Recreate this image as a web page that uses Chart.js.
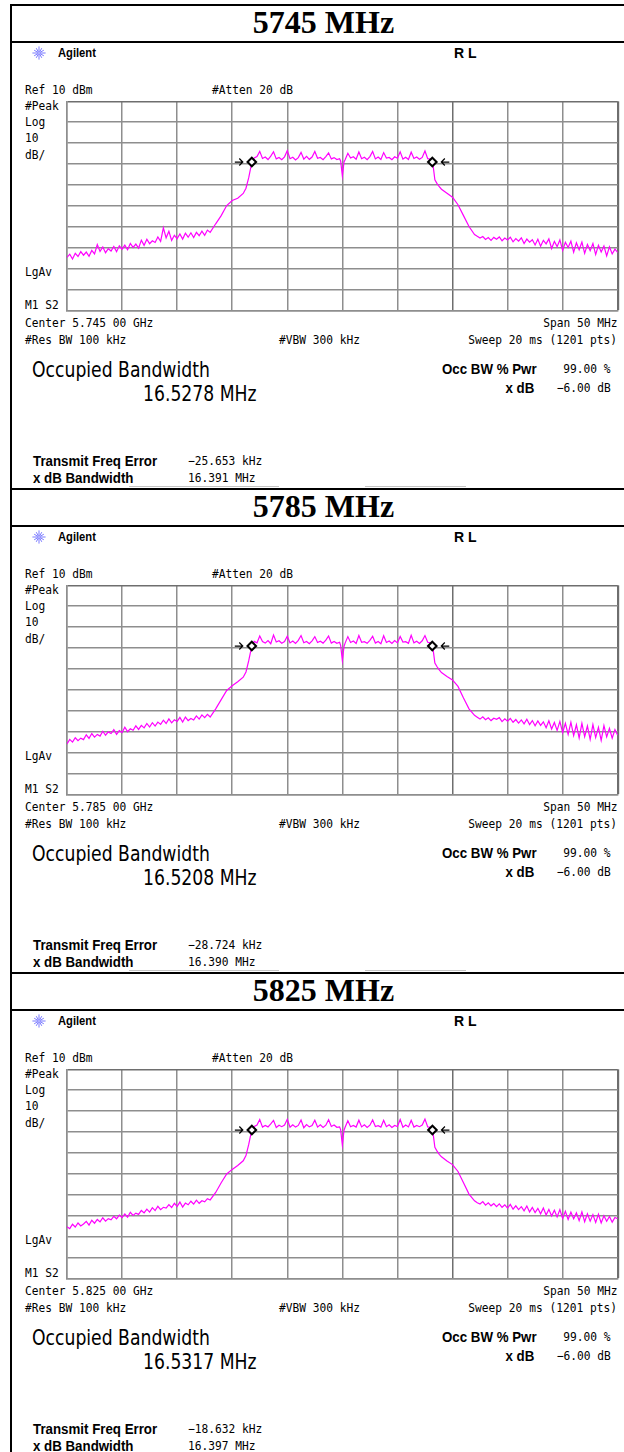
<!DOCTYPE html>
<html>
<head>
<meta charset="utf-8">
<script src="https://cdn.jsdelivr.net/npm/chart.js@4.4.1/dist/chart.umd.min.js"></script>
<style>
  html, body { margin: 0; padding: 0; background: #fff; }
  #page { position: relative; width: 624px; height: 1452px; overflow: hidden; background: #fff; }
  .panel { position: absolute; left: 0; top: 0; width: 624px; height: 484px; }
  .hline { position: absolute; left: 10px; width: 614px; height: 2px; background: #000; }
  .soft { position: absolute; height: 1px; background: #c4c4c4; }
  .vline { position: absolute; left: 10px; top: 4px; width: 2px; height: 1460px; background: #000; }
  .title { position: absolute; left: 0; width: 647px; top: 4px; height: 38px; line-height: 38px;
           text-align: center; font: bold 32px "Liberation Serif", serif; color: #000; }
  .t { position: absolute; white-space: pre; color: #000; }
  .m { font: 12px/16px "DejaVu Sans Mono", monospace; transform: translateY(-50%) scaleX(.935); transform-origin: 0 50%; }
  .b { font: bold 14px/16px "Liberation Sans", sans-serif; transform: translateY(-50%) scaleX(.95); transform-origin: 0 50%; }
  .big { font: 21px/24px "DejaVu Sans", sans-serif; transform: translateY(-50%) scaleX(.82); transform-origin: 0 50%; }
  .brand { font: bold 13px/16px "Liberation Sans", sans-serif; transform: translateY(-50%) scaleX(.86); transform-origin: 0 50%; }
  .rl { font: bold 14px/16px "Liberation Sans", sans-serif; transform: translateY(-50%); }
  .r { transform-origin: 100% 50%; }
  .logo { position: absolute; left: 32px; top: 46px; }
  canvas { position: absolute; }
</style>
</head>
<body>
<div id="page"><div class="vline"></div></div>
<script>
// ---- Measurement set: one spectrum-analyzer capture per channel ----
const channelTitles = ['5745 MHz', '5785 MHz', '5825 MHz'];
const centerFreqLabels = ['5.745 00 GHz', '5.785 00 GHz', '5.825 00 GHz'];
const occupiedBandwidth = ['16.5278 MHz', '16.5208 MHz', '16.5317 MHz'];
const freqErrorKHz = [-25.653, -28.724, -18.632];
const xdBBandwidthMHz = [16.391, 16.390, 16.397];
const xdBLevel = -6.00;
const occBwPercent = 99.00;
const peakLevelDBm = [-13.0, -13.0, -13.0];

// Display grid: span 50 MHz (10 div), ref 10 dBm at 10 dB/div
const xTicksMHz = [-25, -20, -15, -10, -5, 0, 5, 10, 15, 20, 25];
const yTicksDBm = [10, 0, -10, -20, -30, -40, -50, -60, -70, -80, -90];

// Trace sample positions, MHz offset from the centre frequency
const offsetsMHz = [
  -25, -24.75, -24.5, -24.25, -24, -23.75, -23.5, -23.25, -23, -22.75, -22.5, -22.25, -22, -21.75,
  -21.5, -21.25, -21, -20.75, -20.5, -20.25, -20, -19.75, -19.5, -19.25, -19, -18.75, -18.5, -18.25,
  -18, -17.75, -17.5, -17.25, -17, -16.75, -16.5, -16.25, -16, -15.75, -15.5, -15.25, -15, -14.75,
  -14.5, -14.25, -14, -13.75, -13.5, -13.25, -13, -12.75, -12.5, -12.25, -12,
  -11.5, -11, -10.5, -10, -9.5, -9, -8.75, -8.5, -8.35, -8.2,
  -8, -7.75, -7.5, -7.25, -7, -6.75, -6.5, -6.25, -6, -5.75, -5.5, -5.25, -5, -4.75, -4.5, -4.25,
  -4, -3.75, -3.5, -3.25, -3, -2.75, -2.5, -2.25, -2, -1.75, -1.5, -1.25, -1, -0.75, -0.5, -0.25,
  -0.15, 0, 0.15,
  0.25, 0.5, 0.75, 1, 1.25, 1.5, 1.75, 2, 2.25, 2.5, 2.75, 3, 3.25, 3.5, 3.75, 4,
  4.25, 4.5, 4.75, 5, 5.25, 5.5, 5.75, 6, 6.25, 6.5, 6.75, 7, 7.25, 7.5, 7.75, 8,
  8.2, 8.4, 8.6, 8.8, 9, 9.5, 10, 10.5, 11, 11.5,
  12, 12.25, 12.5, 12.75, 13, 13.25, 13.5, 13.75, 14, 14.25, 14.5, 14.75, 15, 15.25,
  15.5, 15.75, 16, 16.25, 16.5, 16.75, 17, 17.25, 17.5, 17.75, 18, 18.25, 18.5, 18.75,
  19, 19.25, 19.5, 19.75, 20, 20.25, 20.5, 20.75, 21, 21.25, 21.5, 21.75, 22, 22.25,
  22.5, 22.75, 23, 23.25, 23.5, 23.75, 24, 24.25, 24.5, 24.75, 25
];

// Trace levels in dBm, one value per offset
const trace5745 = [
  -64.5, -63.0, -65.3, -62.6, -64.1, -61.8, -63.5, -62.0, -64.0, -61.2, -62.9, -58.4, -61.7, -59.6,
  -62.3, -60.4, -61.5, -59.3, -61.8, -59.0, -60.6, -58.7, -60.9, -57.9, -59.8, -58.2, -60.1, -56.3,
  -58.8, -55.9, -58.0, -56.6, -57.4, -54.8, -56.9, -50.4, -55.2, -52.1, -56.4, -54.0, -55.6, -53.4,
  -55.8, -53.0, -54.9, -52.8, -55.1, -52.6, -54.2, -52.0, -54.0, -51.5, -52.6,
  -48.5, -44.6, -39.8, -37.4, -36.3, -34.0, -31.5, -26.5, -22.5, -19.0,
  -17.0, -16.4, -13.9, -17.3, -16.6, -17.8, -16.2, -14.1, -17.5, -16.8, -17.9, -16.5, -13.6, -17.4, -16.7, -18.0,
  -16.9, -14.4, -17.6, -16.3, -17.7, -16.6, -14.0, -17.2, -16.8, -17.9, -16.4, -14.6, -17.5, -16.9, -17.8, -17.4,
  -18.6, -25.6, -19.0,
  -17.9, -14.8, -17.1, -16.5, -17.7, -14.2, -17.4, -16.7, -17.9, -16.4, -14.0, -17.5, -16.6, -17.8, -14.5, -17.1,
  -16.8, -17.9, -16.5, -17.2, -14.1, -17.6, -16.7, -17.8, -14.3, -17.3, -16.6, -17.7, -16.8, -13.7, -17.4, -17.6,
  -19.0, -27.5, -29.3, -30.8, -32.0, -33.9, -35.8, -39.4, -44.6, -49.8,
  -53.6, -54.5, -55.3, -54.6, -56.0, -55.1, -56.4, -55.0, -55.9, -54.8, -56.6, -55.3, -56.2, -54.9,
  -57.1, -55.6, -56.8, -55.2, -57.9, -55.8, -57.3, -56.1, -58.6, -55.9, -59.2, -56.4, -58.1, -55.7,
  -60.3, -56.9, -59.4, -56.2, -61.2, -57.3, -59.8, -56.8, -62.1, -57.6, -60.9, -57.2, -62.6, -58.4,
  -61.3, -57.9, -63.2, -58.8, -62.0, -59.1, -63.8, -59.5, -62.9, -60.6, -62.2
];
const trace5785 = [
  -65.8, -63.6, -64.9, -62.8, -64.2, -63.0, -63.7, -61.4, -63.1, -60.8, -62.5, -61.2, -62.0, -59.7,
  -61.6, -60.0, -60.8, -58.9, -61.2, -59.4, -60.3, -57.8, -59.9, -58.5, -59.2, -57.1, -58.8, -56.9,
  -58.1, -56.0, -57.7, -55.6, -57.2, -55.3, -56.4, -54.4, -56.0, -53.8, -55.7, -54.2, -55.0, -53.1,
  -55.3, -52.9, -54.6, -53.6, -54.3, -52.4, -53.9, -51.9, -53.2, -51.6, -52.9,
  -49.0, -44.6, -40.2, -38.0, -36.1, -33.9, -31.4, -26.0, -22.1, -19.0,
  -16.8, -17.5, -14.2, -16.9, -17.6, -16.4, -17.9, -13.8, -17.1, -16.5, -17.7, -16.9, -14.3, -17.5, -16.6, -17.8,
  -16.3, -14.0, -17.4, -16.8, -17.9, -16.5, -14.5, -17.3, -16.7, -17.6, -16.2, -14.2, -17.6, -16.8, -17.7, -17.2,
  -18.8, -25.9, -19.2,
  -17.6, -14.5, -17.3, -16.6, -17.8, -14.0, -17.2, -16.9, -17.7, -16.3, -14.3, -17.6, -16.8, -17.9, -14.1, -17.3,
  -16.6, -17.8, -16.4, -17.5, -14.4, -17.1, -16.9, -17.7, -13.9, -17.5, -16.7, -17.8, -16.5, -14.0, -17.2, -17.5,
  -19.0, -27.1, -28.9, -30.4, -31.7, -33.5, -35.2, -38.3, -43.8, -49.0,
  -52.1, -53.0, -53.9, -52.8, -54.2, -53.3, -54.6, -53.5, -54.0, -53.2, -55.1, -53.8, -54.9, -53.6,
  -55.4, -54.1, -55.8, -54.3, -56.2, -54.0, -56.5, -54.6, -57.1, -54.8, -56.9, -55.2, -58.0, -54.7,
  -58.6, -55.5, -59.3, -55.0, -60.4, -55.9, -61.2, -55.4, -61.8, -56.6, -62.9, -55.9, -62.3, -57.2,
  -63.6, -56.5, -62.7, -57.8, -64.1, -57.0, -62.4, -58.3, -63.0, -58.9, -61.6
];
const trace5825 = [
  -65.2, -66.1, -64.0, -65.3, -63.4, -64.8, -63.9, -62.6, -64.4, -62.1, -63.5, -61.7, -62.9, -60.9,
  -62.5, -61.3, -61.9, -60.2, -61.4, -59.6, -60.8, -59.1, -60.6, -58.3, -59.8, -58.7, -59.3, -57.4,
  -58.6, -56.8, -58.2, -56.1, -57.5, -55.4, -57.0, -55.9, -56.3, -54.6, -56.0, -54.0, -55.5, -53.4,
  -55.8, -53.9, -54.7, -53.0, -54.4, -52.5, -54.0, -52.8, -53.3, -51.8, -52.4,
  -48.8, -44.2, -40.0, -37.8, -35.9, -33.7, -31.2, -25.9, -22.0, -19.0,
  -17.3, -16.6, -14.0, -17.6, -16.8, -17.5, -16.1, -14.4, -17.8, -16.7, -17.4, -16.6, -13.9, -17.7, -16.5, -17.6,
  -16.8, -14.2, -17.9, -16.4, -17.5, -16.9, -14.3, -17.6, -16.5, -17.8, -16.7, -14.1, -17.3, -16.6, -17.7, -17.5,
  -18.9, -26.2, -19.1,
  -17.7, -14.6, -17.4, -16.8, -17.6, -14.3, -17.5, -16.5, -17.8, -16.7, -14.2, -17.3, -16.9, -17.6, -14.4, -17.4,
  -16.5, -17.8, -16.8, -17.3, -14.0, -17.7, -16.6, -17.5, -14.4, -17.6, -16.8, -17.4, -16.6, -13.8, -17.5, -17.7,
  -19.0, -27.3, -29.1, -30.6, -31.8, -33.8, -35.5, -38.8, -44.2, -49.6,
  -52.8, -53.7, -54.3, -53.2, -54.9, -53.8, -55.2, -54.1, -55.6, -54.3, -55.9, -54.7, -56.3, -54.5,
  -56.8, -55.2, -57.0, -55.6, -57.6, -55.3, -58.1, -56.0, -58.4, -56.4, -59.0, -56.2, -59.6, -56.9,
  -60.1, -57.3, -60.5, -57.0, -61.2, -57.8, -61.7, -58.2, -61.4, -58.6, -62.3, -58.1, -62.8, -59.0,
  -62.5, -59.4, -63.1, -59.2, -63.4, -59.9, -62.6, -60.3, -63.0, -60.8, -61.4
];
const traces = [trace5745, trace5785, trace5825];

const PANEL_PITCH = 484;
const page = document.getElementById('page');

function put(parent, text, x, y, cls, alignRight) {
  const d = document.createElement('div');
  d.className = 't ' + cls + (alignRight ? ' r' : '');
  d.textContent = text;
  if (alignRight) d.style.right = (624 - x) + 'px'; else d.style.left = x + 'px';
  d.style.top = y + 'px';
  parent.appendChild(d);
}
const minus = s => s.replace('-', '\u2212');

// Arrows beside the two -x dB markers
const markerArrows = {
  id: 'markerArrows',
  afterDatasetsDraw(chart) {
    const pts = chart.getDatasetMeta(1).data;
    const ctx = chart.ctx;
    ctx.save();
    ctx.strokeStyle = '#000';
    ctx.lineWidth = 1.2;
    pts.forEach((p, i) => {
      const dir = i === 0 ? 1 : -1;
      const tip = p.x - dir * 9, tail = p.x - dir * 17;
      ctx.beginPath();
      ctx.moveTo(tail, p.y); ctx.lineTo(tip, p.y);
      ctx.moveTo(tip - dir * 3.5, p.y - 3.5); ctx.lineTo(tip, p.y); ctx.lineTo(tip - dir * 3.5, p.y + 3.5);
      ctx.stroke();
    });
    ctx.restore();
  }
};

const gridColor = c => (c.tick && (c.tick.value === 25 || c.tick.value === 10)) ? '#6e6e6e' : '#8e8e8e';
const gridWidth = c => (c.tick && c.tick.value === 25) ? 2.2 : 1.5;

const logoSvg =
  '<svg class="logo" width="14" height="14" viewBox="-7 -7 14 14">' +
  '<g stroke="#6b6bff" stroke-width="0.9" stroke-linecap="round">' +
  [0, 30, 60, 90, 120, 150, 180, 210, 240, 270, 300, 330].map(a => {
    const r = a * Math.PI / 180, r1 = 1.6, r2 = (a % 90 === 0) ? 6.2 : 5.2;
    return '<line x1="' + (Math.cos(r) * r1).toFixed(2) + '" y1="' + (Math.sin(r) * r1).toFixed(2) +
      '" x2="' + (Math.cos(r) * r2).toFixed(2) + '" y2="' + (Math.sin(r) * r2).toFixed(2) + '"/>';
  }).join('') +
  '</g><circle r="0.9" fill="#8a8aff"/></svg>';

channelTitles.forEach((title, i) => {
  const off = i * PANEL_PITCH;
  const p = document.createElement('div');
  p.className = 'panel';
  p.style.top = off + 'px';
  page.appendChild(p);

  p.insertAdjacentHTML('beforeend',
    '<div class="hline" style="top:4px"></div>' +
    '<div class="hline" style="top:41px"></div>' +
    '<div class="soft" style="top:486px;left:129px;width:150px"></div>' +
    '<div class="soft" style="top:486px;left:365px;width:101px"></div>' +
    logoSvg);

  const t = document.createElement('div');
  t.className = 'title';
  t.textContent = title;
  p.appendChild(t);

  put(p, 'Agilent', 58, 53, 'brand');
  put(p, 'R L', 454, 53, 'rl');
  put(p, 'Ref 10 dBm', 25, 90, 'm');
  put(p, '#Atten 20 dB', 212, 90, 'm');
  put(p, '#Peak', 25, 105.5, 'm');
  put(p, 'Log', 25, 121.5, 'm');
  put(p, '10', 25, 138, 'm');
  put(p, 'dB/', 25, 154.5, 'm');
  put(p, 'LgAv', 25, 272, 'm');
  put(p, 'M1 S2', 25, 304.5, 'm');
  put(p, 'Center ' + centerFreqLabels[i], 25, 323, 'm');
  put(p, 'Span 50 MHz', 617, 323, 'm', true);
  put(p, '#Res BW 100 kHz', 25, 340, 'm');
  put(p, '#VBW 300 kHz', 279, 340, 'm');
  put(p, 'Sweep 20 ms (1201 pts)', 617, 340, 'm', true);
  put(p, 'Occupied Bandwidth', 32, 369.5, 'big');
  put(p, occupiedBandwidth[i], 143, 393.5, 'big');
  put(p, 'Occ BW % Pwr', 442, 368.5, 'b');
  put(p, occBwPercent.toFixed(2) + ' %', 611, 368.5, 'm', true);
  put(p, 'x dB', 534, 387.5, 'b', true);
  put(p, minus(xdBLevel.toFixed(2) + ' dB'), 611, 387.5, 'm', true);
  put(p, 'Transmit Freq Error', 33, 461, 'b');
  put(p, minus(freqErrorKHz[i].toFixed(3) + ' kHz'), 188, 461, 'm');
  put(p, 'x dB Bandwidth', 33, 478, 'b');
  put(p, xdBBandwidthMHz[i].toFixed(3) + ' MHz', 188, 478, 'm');

  const canvas = document.createElement('canvas');
  canvas.width = 564; canvas.height = 222;
  canvas.style.left = '60px';
  canvas.style.top = (95 + off) + 'px';
  page.appendChild(canvas);

  // -x dB markers from the reported x dB bandwidth and frequency error
  const centre = freqErrorKHz[i] / 1000;
  const half = xdBBandwidthMHz[i] / 2;
  const mkLevel = peakLevelDBm[i] + xdBLevel;
  const markers = [{ x: centre - half, y: mkLevel }, { x: centre + half, y: mkLevel }];

  new Chart(canvas, {
    type: 'line',
    data: {
      datasets: [
        {
          data: offsetsMHz.map((f, k) => ({ x: f, y: traces[i][k] })),
          borderColor: '#ff00ff', borderWidth: 1.2, pointRadius: 0, tension: 0, order: 1
        },
        {
          data: markers, showLine: false, pointStyle: 'rectRot', pointRadius: 4.3,
          borderColor: '#000', borderWidth: 2, backgroundColor: '#fff', order: 0
        }
      ]
    },
    options: {
      responsive: false, animation: false, devicePixelRatio: 1,
      layout: { padding: { left: 7, top: 4, right: 5, bottom: 5 } },
      plugins: { legend: { display: false }, tooltip: { enabled: false } },
      scales: {
        x: {
          type: 'linear', min: -25, max: 25,
          afterBuildTicks: s => { s.ticks = xTicksMHz.map(v => ({ value: v })); },
          ticks: { display: false },
          grid: { color: gridColor, lineWidth: gridWidth, drawTicks: false },
          border: { display: true, color: '#8e8e8e', width: 1.5 }
        },
        y: {
          type: 'linear', min: -90, max: 10,
          afterBuildTicks: s => { s.ticks = yTicksDBm.map(v => ({ value: v })); },
          ticks: { display: false },
          grid: { color: gridColor, lineWidth: gridWidth, drawTicks: false },
          border: { display: true, color: '#8e8e8e', width: 1.5 }
        }
      }
    },
    plugins: [markerArrows]
  });
});
</script>
</body>
</html>
